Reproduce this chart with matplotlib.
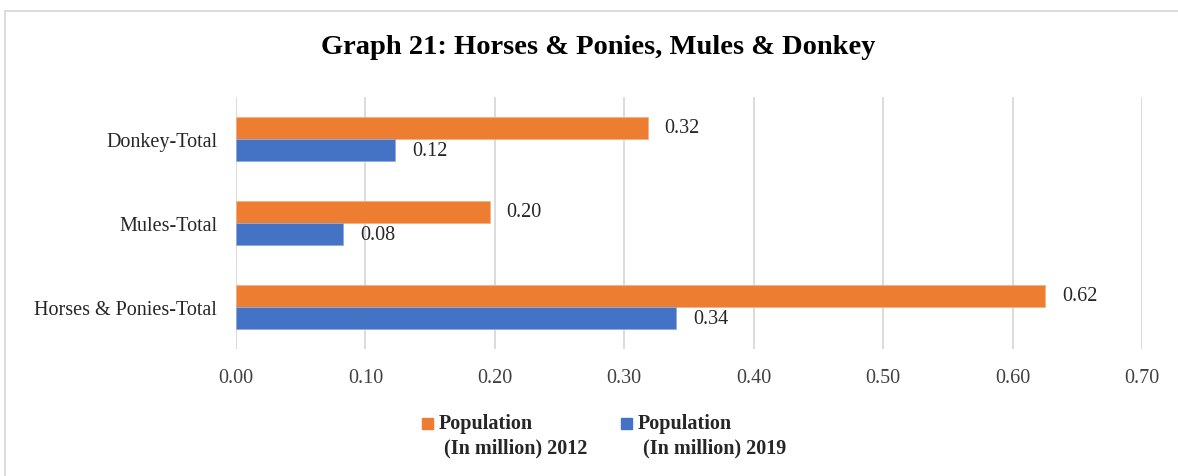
import matplotlib.pyplot as plt
import numpy as np
from matplotlib.lines import Line2D
from matplotlib.patches import Rectangle

categories = ["Horses & Ponies-Total", "Mules-Total", "Donkey-Total"]
pop_2012 = [0.625, 0.196, 0.318]
pop_2019 = [0.340, 0.083, 0.123]
xticks = [0.0, 0.1, 0.2, 0.3, 0.4, 0.5, 0.6, 0.7]
series_names = [("Population", "(In million) 2012"), ("Population", "(In million) 2019")]

orange = "#ED7D31"
blue = "#4472C4"

plt.rcParams['font.family'] = ['Liberation Serif', 'DejaVu Serif']

W, H = 1178, 477
fig = plt.figure(figsize=(W / 100, H / 100), dpi=100)
ax = fig.add_axes([236 / W, 1 - 350 / H, (1142 - 236) / W, (350 - 98) / H])

y = np.arange(len(categories))
h = 0.262
ax.barh(y + h / 2, pop_2012, height=h, color=orange, edgecolor="#F4B183", linewidth=0.6)
ax.barh(y - h / 2, pop_2019, height=h, color=blue, edgecolor="#8FAADC", linewidth=0.6)

for yy, v in zip(y + h / 2, pop_2012):
    ax.text(v + 0.013, yy, f"{v:.2f}", va="center", ha="left", fontsize=14.5, color="#262626")
for yy, v in zip(y - h / 2, pop_2019):
    ax.text(v + 0.013, yy, f"{v:.2f}", va="center", ha="left", fontsize=14.5, color="#262626")

ax.set_xlim(0, 0.7)
ax.set_ylim(-0.5, 2.5)
ax.set_xticks(xticks)
ax.set_xticklabels([f"{t:.2f}" for t in xticks], fontsize=14.5, color="#404040")
ax.set_yticks(y)
ax.set_yticklabels(categories, fontsize=14.5, color="#262626")
ax.tick_params(length=0, pad=13.5, axis="y")
ax.tick_params(length=0, pad=14, axis="x")
ax.xaxis.grid(True, color="#D9D9D9", linewidth=1.3)
ax.set_axisbelow(True)
for sp in ax.spines.values():
    sp.set_visible(False)

fig.text(598 / W, 1 - 48 / H, "Graph 21: Horses & Ponies, Mules & Donkey",
         ha="center", va="center", fontsize=20.5, fontweight="bold")

# legend, marker next to the first line of each label
for (x0, col, (l1, l2)) in zip([422, 621], [orange, blue], series_names):
    fig.add_artist(Rectangle((x0 / W, 1 - 430 / H), 11 / W, 11 / H, color=col,
                             transform=fig.transFigure))
    fig.text((x0 + 17) / W, 1 - 424 / H, l1, ha="left", va="center",
             fontsize=14.5, fontweight="bold", color="#262626")
    fig.text((x0 + 22) / W, 1 - 448 / H, l2, ha="left", va="center",
             fontsize=14.5, fontweight="bold", color="#262626")

# chart border
fig.add_artist(Line2D([5 / W, 1], [1 - 12 / H, 1 - 12 / H], color="#D9D9D9", linewidth=1.3))
fig.add_artist(Line2D([5 / W, 5 / W], [0, 1 - 12 / H], color="#D9D9D9", linewidth=1.3))

fig.savefig("out.png", dpi=100)
